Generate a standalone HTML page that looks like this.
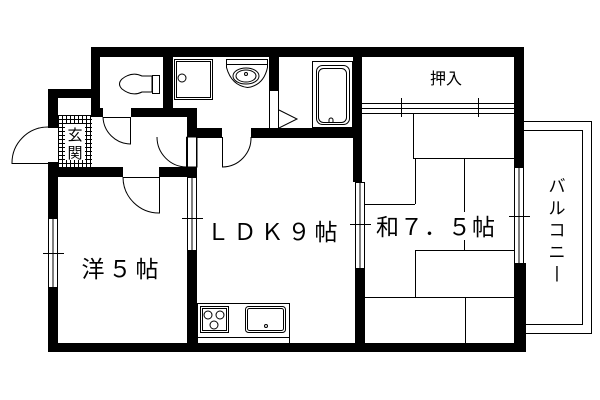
<!DOCTYPE html>
<html><head><meta charset="utf-8"><style>
html,body{margin:0;padding:0;background:#fff;}
svg{display:block;}
text{font-family:"Liberation Sans","Noto Sans CJK JP",sans-serif;fill:#000;}
</style></head><body>
<svg width="600" height="400" viewBox="0 0 600 400" xmlns="http://www.w3.org/2000/svg">
<g fill="none" stroke="#000" stroke-width="1">
<!-- balcony -->
<rect x="523.5" y="121.5" width="68" height="212"/>
<polyline points="523.5,130.5 582.5,130.5 582.5,324.5 523.5,324.5"/>
<!-- 押入 rails -->
<line x1="362" y1="103.5" x2="514" y2="103.5"/>
<line x1="362" y1="108.5" x2="514" y2="108.5"/>
<line x1="362" y1="113.5" x2="514" y2="113.5"/>
<line x1="401.5" y1="98" x2="401.5" y2="117"/>
<line x1="478.5" y1="98" x2="478.5" y2="117"/>
<!-- tatami -->
<line x1="413.5" y1="113" x2="413.5" y2="158"/>
<line x1="413" y1="158.5" x2="514" y2="158.5"/>
<line x1="464.5" y1="158" x2="464.5" y2="212"/>
<line x1="464.5" y1="240" x2="464.5" y2="250"/>
<line x1="365" y1="204.5" x2="415" y2="204.5"/>
<line x1="415.5" y1="158" x2="415.5" y2="204"/>
<line x1="415.5" y1="250" x2="415.5" y2="297"/>
<line x1="415" y1="250.5" x2="514" y2="250.5"/>
<line x1="365" y1="297.5" x2="514" y2="297.5"/>
<line x1="465.5" y1="297" x2="465.5" y2="343"/>
<!-- kitchen -->
<rect x="197.5" y="303.5" width="92" height="40"/>
<line x1="197" y1="337.5" x2="290" y2="337.5"/>
<rect x="200.5" y="306.5" width="28" height="26"/>
<rect x="202.5" y="308.5" width="24" height="22"/>
<circle cx="208" cy="315" r="4"/><circle cx="220" cy="315" r="4"/><circle cx="214" cy="325" r="4"/>
<rect x="245.5" y="306.5" width="40" height="26" rx="3"/>
<rect x="247.5" y="308.5" width="36" height="22" rx="2"/>
<circle cx="266" cy="326" r="1.5"/>
<!-- bath -->
<rect x="312.5" y="61.5" width="40" height="66"/>
<rect x="316.5" y="65.5" width="33" height="59" rx="6"/>
<rect x="318.5" y="68.5" width="28" height="54" rx="5"/>
<path d="M329 123 v-3 a2 2 0 0 1 4 0 v3"/>
<!-- shower -->
<rect x="174.5" y="59.5" width="38" height="40"/>
<rect x="176.5" y="61.5" width="34" height="36"/>
<circle cx="182" cy="78" r="4"/>
<!-- basin -->
<path d="M226.5 59.5 h41 v8 q-4 18 -20 20 q-16 -2 -21 -20 z"/>
<line x1="226" y1="64.5" x2="268" y2="64.5"/>
<ellipse cx="246" cy="76" rx="13" ry="8"/>
<ellipse cx="246" cy="76" rx="10" ry="6"/>
<circle cx="246" cy="74" r="1.5"/>
<!-- toilet -->
<path d="M152 76 h-10 q-10 -5 -20 3 q-5 5 0 10 q10 8 20 3 h10 z"/>
<rect x="152.5" y="75.5" width="7" height="18"/>
<!-- wash door -->
<rect x="269.5" y="90.5" width="9" height="38"/>
<polyline points="279,110 297,119 279,128"/>
<!-- doors -->
<path d="M130.5 117 v27 A28 28 0 0 1 103 117"/>
<path d="M186.5 137 v30 A30 30 0 0 1 157 137"/>
<rect x="187" y="137" width="10" height="30" fill="#fff"/>
<line x1="187.5" y1="137" x2="187.5" y2="167"/><line x1="196.5" y1="137" x2="196.5" y2="167"/>
<path d="M222.5 137 v30 A29 29 0 0 0 251 137"/>
<path d="M48 163.5 h-36 A36 36 0 0 1 48 127"/>
<line x1="48" y1="127.5" x2="58" y2="127.5"/><line x1="48" y1="162.5" x2="58" y2="162.5"/>
<path d="M159.5 177 v36 A36 36 0 0 1 123 177"/>
<line x1="123" y1="177.5" x2="159" y2="177.5"/>
<line x1="103" y1="117.5" x2="131" y2="117.5"/>
<!-- windows -->
<rect x="48.5" y="218.5" width="9" height="69"/><line x1="53" y1="218" x2="53" y2="287"/><line x1="43" y1="253.5" x2="64" y2="253.5"/>
<rect x="187.5" y="177.5" width="9" height="73"/><line x1="192" y1="177" x2="192" y2="250"/><line x1="182" y1="218.5" x2="203" y2="218.5"/>
<rect x="355.5" y="182.5" width="9" height="86"/><line x1="360" y1="182" x2="360" y2="268"/><line x1="350" y1="224.5" x2="371" y2="224.5"/>
<rect x="514.5" y="167.5" width="9" height="96"/><line x1="519" y1="167" x2="519" y2="263"/><line x1="509" y1="216.5" x2="530" y2="216.5"/>
<rect x="353.5" y="182.5" width="8" height="0"/>
</g>
<!-- genkan tiles -->
<g stroke="#000" stroke-width="1">
<path d="M58 115.5h34M58 119.5h34M58 123.5h34M58 127.5h34M58 131.5h34M58 135.5h34M58 139.5h34M58 143.5h34M58 147.5h34M58 151.5h34M58 155.5h34M58 159.5h34M58 163.5h34M58 167.5h34"/>
<path d="M58.5 115v53M62.5 115v53M66.5 115v53M70.5 115v53M74.5 115v53M78.5 115v53M82.5 115v53M86.5 115v53M90.5 115v53"/>
</g>
<rect x="65" y="124" width="20" height="36" fill="#fff"/>
<text x="75" y="140" font-size="15" text-anchor="middle">玄</text>
<text x="75" y="158" font-size="15" text-anchor="middle">関</text>
<!-- walls -->
<g fill="#000">
<rect x="91" y="47" width="433" height="10"/>
<rect x="91" y="47" width="9" height="68"/>
<rect x="48" y="89" width="52" height="9"/>
<rect x="48" y="89" width="10" height="38"/>
<rect x="48" y="163" width="10" height="55"/>
<rect x="48" y="287" width="10" height="65"/>
<rect x="48" y="343" width="478" height="9"/>
<rect x="91" y="108" width="12" height="9"/>
<rect x="131" y="108" width="66" height="9"/>
<rect x="163" y="57" width="10" height="60"/>
<rect x="187" y="108" width="10" height="29"/>
<rect x="48" y="167" width="75" height="10"/>
<rect x="159" y="167" width="38" height="10"/>
<rect x="187" y="167" width="10" height="10"/>
<rect x="187" y="250" width="10" height="100"/>
<rect x="197" y="128" width="25" height="10"/>
<rect x="251" y="128" width="111" height="10"/>
<rect x="269" y="57" width="10" height="33"/>
<rect x="353" y="57" width="9" height="81"/>
<rect x="353" y="128" width="9" height="54"/>
<rect x="355" y="268" width="10" height="80"/>
<rect x="514" y="47" width="10" height="120"/>
<rect x="514" y="263" width="12" height="85"/>
</g>
<!-- labels -->
<text x="122" y="277" font-size="23" text-anchor="middle" letter-spacing="4">洋５帖</text>
<text x="274" y="240" font-size="23" text-anchor="middle" letter-spacing="4">ＬＤＫ９帖</text>
<text x="436" y="235" font-size="23" text-anchor="middle" letter-spacing="1">和７．５帖</text>
<text x="446" y="84" font-size="16" text-anchor="middle">押入</text>
<text font-size="17" text-anchor="middle"><tspan x="557" y="192">バ</tspan><tspan x="557" y="214">ル</tspan><tspan x="557" y="236">コ</tspan><tspan x="557" y="258">ニ</tspan><tspan x="557" y="278">|</tspan></text>
</svg>
</body></html>
